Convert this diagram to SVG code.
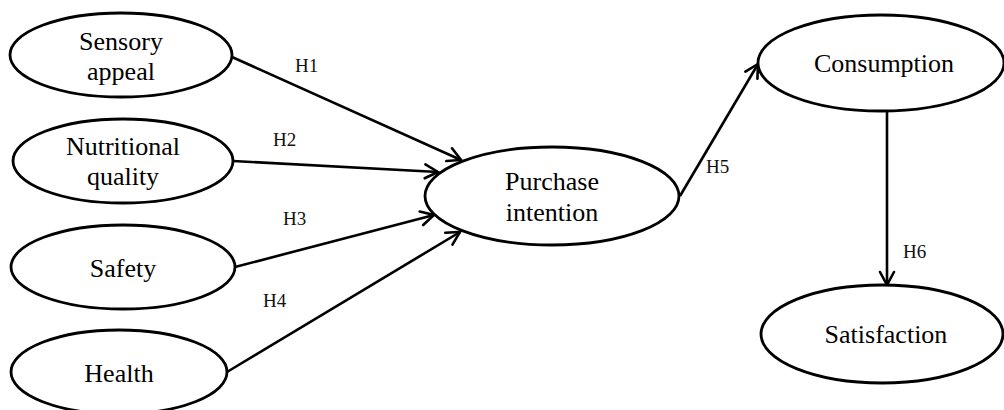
<svg xmlns="http://www.w3.org/2000/svg" width="1004" height="410" viewBox="0 0 1004 410">
<style>
.node{fill:#fff;stroke:#000;stroke-width:2.8}
.t{font-family:"Liberation Serif","Times New Roman",serif;font-size:26px;fill:#000;text-anchor:middle}
.lbl{font-family:"Liberation Serif","Times New Roman",serif;font-size:19px;fill:#111}
.edge{stroke:#000;stroke-width:2.6;fill:none;marker-end:url(#arr)}
</style>
<defs>
<marker id="arr" markerUnits="userSpaceOnUse" markerWidth="20" markerHeight="20" viewBox="0 0 20 20" refX="17" refY="10" orient="auto">
<path d="M4,3 L17,10 L4,17" fill="none" stroke="#000" stroke-width="2.6" stroke-linecap="round" stroke-linejoin="miter"/>
</marker>
</defs>
<rect width="1004" height="410" fill="#fff"/>
<g id="connectors">
<line class="edge" x1="232" y1="57" x2="461" y2="160"/>
<line class="edge" x1="233" y1="161" x2="438" y2="172"/>
<line class="edge" x1="235" y1="267" x2="434" y2="215"/>
<line class="edge" x1="227" y1="372" x2="460" y2="232"/>
<line class="edge" x1="680" y1="196" x2="758" y2="64"/>
<line class="edge" x1="887" y1="112" x2="887" y2="285"/>
<text class="lbl" x="295" y="72">H1</text>
<text class="lbl" x="273" y="146">H2</text>
<text class="lbl" x="283" y="225">H3</text>
<text class="lbl" x="263" y="307">H4</text>
<text class="lbl" x="706" y="173">H5</text>
<text class="lbl" x="903" y="258">H6</text>
</g>
<g id="sensory">
<ellipse class="node" cx="121" cy="55" rx="111" ry="42"/>
<text class="t" x="121" y="50">Sensory</text>
<text class="t" x="121" y="80">appeal</text>
</g>
<g id="nutritional">
<ellipse class="node" cx="123" cy="161" rx="110" ry="42"/>
<text class="t" x="123" y="155">Nutritional</text>
<text class="t" x="123" y="185">quality</text>
</g>
<g id="safety">
<ellipse class="node" cx="123" cy="267" rx="112" ry="42"/>
<text class="t" x="123" y="277">Safety</text>
</g>
<g id="health">
<ellipse class="node" cx="119" cy="372" rx="108" ry="42"/>
<text class="t" x="119" y="382">Health</text>
</g>
<g id="purchase">
<ellipse class="node" cx="552" cy="196" rx="127" ry="49"/>
<text class="t" x="552" y="190">Purchase</text>
<text class="t" x="552" y="221">intention</text>
</g>
<g id="consumption">
<ellipse class="node" cx="881" cy="63" rx="123" ry="48"/>
<text class="t" x="884" y="72">Consumption</text>
</g>
<g id="satisfaction">
<ellipse class="node" cx="882" cy="334" rx="121" ry="49"/>
<text class="t" x="886" y="343">Satisfaction</text>
</g>
</svg>
